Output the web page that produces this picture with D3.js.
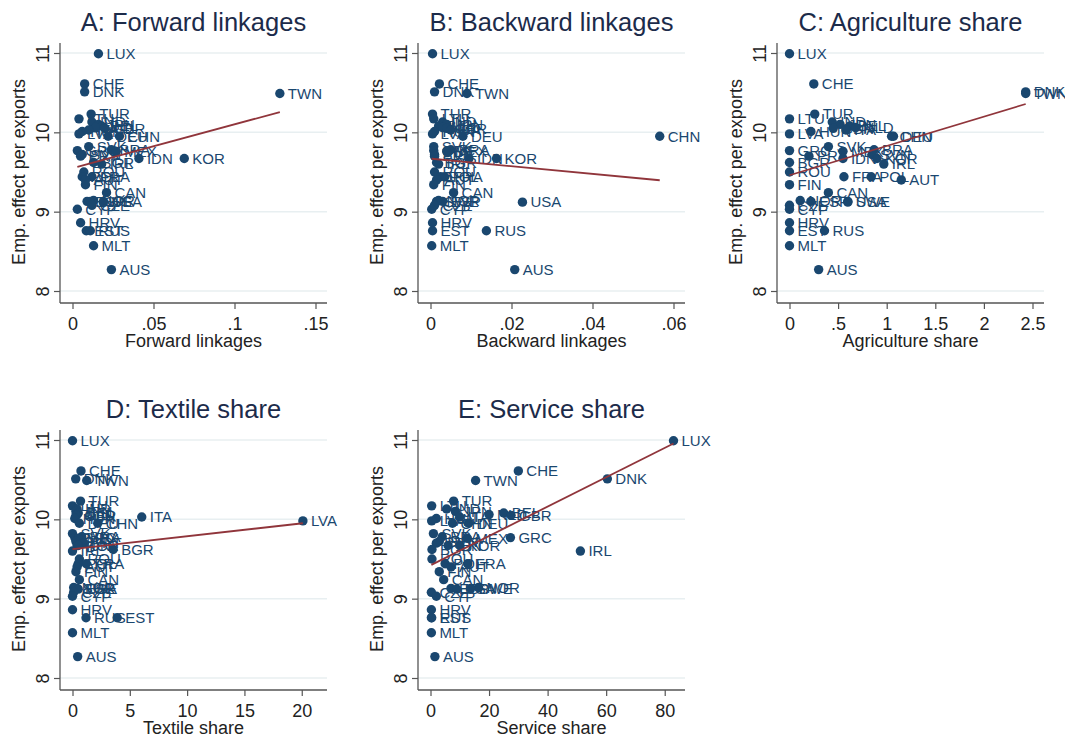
<!DOCTYPE html>
<html>
<head>
<meta charset="utf-8">
<script src="https://cdn.jsdelivr.net/npm/d3@7"></script>
<style>
  body { margin: 0; background: #fff; }
  text { font-family: "Liberation Sans", Arial, Helvetica, sans-serif; }
</style>
</head>
<body>
<svg id="chart" width="1065" height="737"></svg>
<script>
// --- data ---
const countries = ["LUX","CHE","DNK","TWN","TUR","LTU","IND","JPN","BEL","NLD","GBR","ITA","HUN","LVA",
  "DEU","CHN","SVK","BRA","GRC","MEX","SVN","PRT","IDN","KOR","BGR","IRL","ROU","FRA","POL","AUT",
  "FIN","CAN","NOR","ESP","SWE","USA","CZE","CYP","HRV","EST","RUS","MLT","AUS"];
const empEffect = [10.99,10.61,10.51,10.49,10.23,10.17,10.13,10.10,10.08,10.06,10.05,10.03,10.01,9.98,
  9.95,9.95,9.82,9.78,9.77,9.76,9.72,9.70,9.67,9.67,9.62,9.60,9.50,9.44,9.44,9.40,
  9.34,9.24,9.14,9.13,9.13,9.12,9.08,9.03,8.86,8.76,8.76,8.57,8.27];
const fwdLinkages = [.016,.0075,.0075,.128,.0115,.004,.012,.016,.018,.014,.020,.010,.006,.004,
  .022,.029,.010,.024,.003,.027,.006,.005,.041,.069,.013,.018,.007,.012,.006,.008,
  .008,.021,.013,.009,.011,.019,.012,.003,.005,.0085,.011,.013,.024];
const bwdLinkages = [.0005,.0022,.001,.009,.0005,.0008,.003,.004,.002,.003,.004,.005,.001,.0005,
  .008,.0566,.0008,.005,.0008,.004,.001,.001,.0095,.0163,.0015,.002,.001,.0035,.0025,.0015,
  .0008,.0057,.002,.003,.0015,.0227,.001,.0003,.0005,.0005,.0138,.0003,.0208];
const agriShare = [0,.25,2.43,2.43,.26,0,.44,.52,.62,.68,.45,.58,.22,0,
  1.07,1.05,.40,.87,0,.55,.85,.20,.55,.90,0,.97,0,.56,.84,1.15,
  0,.40,.11,.22,.60,.60,0,0,0,0,.36,0,.30];
const textileShare = [0,.74,.28,1.24,.70,0,.40,.30,.50,.40,.30,6.04,.20,20.1,
  .60,2.2,0,.80,.20,.50,.30,1.0,.40,.50,3.55,0,.60,1.2,.50,.40,
  .30,.60,.10,.40,.20,.50,.10,0,0,3.9,1.18,0,.45];
const serviceShare = [83,30,60.4,15.4,7.9,.4,5.5,8.5,25,20,27.5,10,2,.4,
  13,7.5,1,4,27.3,12.6,3,2,6,10,.5,51.2,.5,12.7,5,7,
  3,4.5,16.4,7,13.7,9,.3,2,.3,.3,.4,.3,1.5];

const panelTitles = ["A: Forward linkages","B: Backward linkages","C: Agriculture share","D: Textile share","E: Service share"];
const xTitles = ["Forward linkages","Backward linkages","Agriculture share","Textile share","Service share"];
const xTicks = [[0,.05,.1,.15],[0,.02,.04,.06],[0,.5,1,1.5,2,2.5],[0,5,10,15,20],[0,20,40,60,80]];
const xDomains = [[0,.15],[0,.06],[0,2.5],[0,21.2],[0,83]];
const yTicks = [8,9,10,11];
const yTitle = "Emp. effect per exports";

// --- layout ---
const svg = d3.select("#chart");
const navy = "#1a476f", maroon = "#90353b", grid = "#e8eff1", axisCol = "#555";
const colX = [60, 418, 777];
const rowY = [0, 387];
const plotW = 267, pad = 12.5;

const seriesX = [fwdLinkages, bwdLinkages, agriShare, textileShare, serviceShare];
const fmt = d => d === 0 ? "0" : String(d).replace(/^0\./, ".");

seriesX.forEach((xs, i) => {
  const left = colX[i % 3], top = rowY[Math.floor(i / 3)];
  const g = svg.append("g").attr("transform", `translate(${left},${top})`);

  const x = d3.scaleLinear().domain(xDomains[i]).range([pad, plotW - 11.5]);
  const y = d3.scaleLinear().domain([8, 11]).range([291, 53]);

  // title
  svg.append("text")
    .attr("x", left + plotW / 2).attr("y", top + 31)
    .attr("text-anchor", "middle")
    .attr("font-size", 25.5).attr("fill", "#1c2b4a")
    .text(panelTitles[i]);

  // gridlines
  g.selectAll(".grid").data(yTicks).enter().append("line")
    .attr("x1", 0).attr("x2", plotW)
    .attr("y1", d => y(d)).attr("y2", d => y(d))
    .attr("stroke", grid).attr("stroke-width", 1.5);

  // y axis
  const yAxis = g.append("g")
    .call(d3.axisLeft(y).tickValues(yTicks).tickSize(6).tickPadding(4).tickFormat(d3.format("d")));
  yAxis.select(".domain").attr("d", "M0,43V303").attr("stroke", axisCol).attr("stroke-width", 1.3);
  yAxis.selectAll(".tick line").attr("stroke", axisCol).attr("stroke-width", 1.2);
  yAxis.selectAll(".tick text")
    .attr("font-size", 18).attr("fill", "#222")
    .attr("transform", "rotate(-90)")
    .attr("x", 0).attr("y", -11)
    .attr("dy", 0)
    .attr("text-anchor", "middle");

  // x axis
  const xAxis = g.append("g").attr("transform", "translate(0,303)")
    .call(d3.axisBottom(x).tickValues(xTicks[i]).tickSize(6).tickPadding(6).tickFormat(fmt));
  xAxis.select(".domain").attr("d", `M0,0H${plotW}`).attr("stroke", axisCol).attr("stroke-width", 1.3);
  xAxis.selectAll(".tick line").attr("stroke", axisCol).attr("stroke-width", 1.2);
  xAxis.selectAll(".tick text").attr("font-size", 18).attr("fill", "#222").attr("dy", "0.85em");

  // axis titles
  g.append("text")
    .attr("x", plotW / 2).attr("y", 347)
    .attr("text-anchor", "middle").attr("font-size", 18).attr("fill", "#222")
    .text(xTitles[i]);
  g.append("text")
    .attr("transform", `translate(-35,${(53 + 291) / 2}) rotate(-90)`)
    .attr("text-anchor", "middle").attr("font-size", 18).attr("fill", "#222")
    .text(yTitle);

  const pts = countries.map((c, k) => ({ c, x: xs[k], y: empEffect[k] }));

  // markers + labels
  g.selectAll(".lbl").data(pts).enter().append("text")
    .attr("x", d => x(d.x) + 8).attr("y", d => y(d.y))
    .attr("dy", "0.35em")
    .attr("font-size", 15).attr("fill", navy)
    .text(d => d.c);
  g.selectAll(".dot").data(pts).enter().append("circle")
    .attr("cx", d => x(d.x)).attr("cy", d => y(d.y))
    .attr("r", 4.7).attr("fill", navy);

  // linear fit
  const mx = d3.mean(pts, d => d.x), my = d3.mean(pts, d => d.y);
  const b = d3.sum(pts, d => (d.x - mx) * (d.y - my)) / d3.sum(pts, d => (d.x - mx) ** 2);
  const a = my - b * mx;
  const ext = d3.extent(pts, d => d.x);
  g.append("path")
    .datum(ext)
    .attr("d", d3.line().x(d => x(d)).y(d => y(a + b * d)))
    .attr("stroke", maroon).attr("stroke-width", 1.8).attr("fill", "none");
});
</script>
</body>
</html>
